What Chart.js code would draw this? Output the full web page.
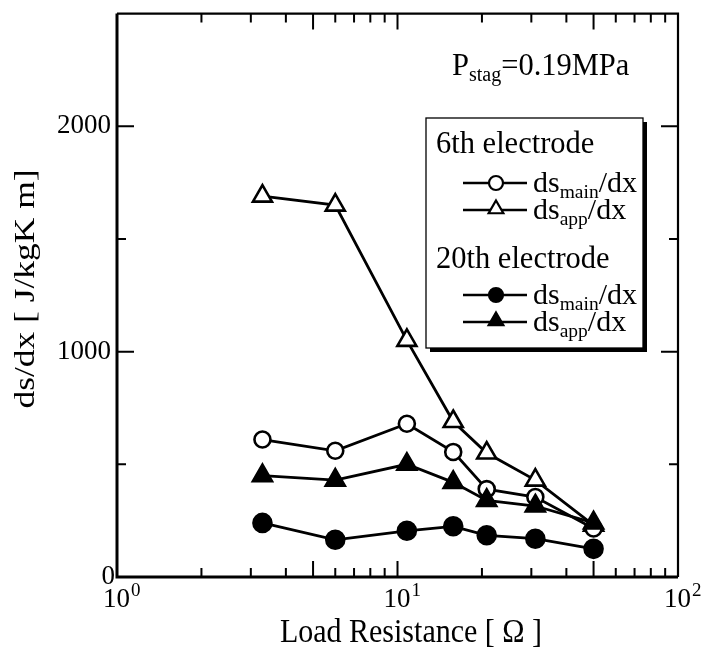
<!DOCTYPE html>
<html>
<head>
<meta charset="utf-8">
<script src="https://cdn.jsdelivr.net/npm/chart.js@4.4.1/dist/chart.umd.min.js"></script>
<style>
  html, body { margin: 0; padding: 0; background: #fff; }
  #wrap { width: 708px; height: 647px; }
</style>
</head>
<body>
<div id="wrap"><canvas id="c" width="708" height="647"></canvas></div>
<script>
// Load resistance [Ohm]
const loadResistance = [3.3, 6, 10.8, 15.8, 20.8, 31, 50];

// ds/dx [J/kgK m]
const main6th = [610, 560, 680, 555, 390, 355, 215];
const app6th  = [1690, 1650, 1050, 690, 550, 430, 230];
const main20th = [240, 165, 205, 225, 185, 170, 125];
const app20th  = [450, 430, 500, 420, 340, 315, 240];

const yTickLabels = [0, 1000, 2000];
const xTickExponents = [0, 1, 2];

const SERIF = '"Liberation Serif", "DejaVu Serif", serif';

function pts(ys) {
  return loadResistance.map((x, i) => ({ x: x, y: ys[i] }));
}

const common = {
  borderColor: '#000',
  borderWidth: 2.8,
  pointBorderColor: '#000',
  pointBorderWidth: 2.6,
  showLine: true,
  tension: 0,
  fill: false
};

const datasets = [
  Object.assign({}, common, {
    label: 'ds_main/dx (6th)', data: pts(main6th), pointStyle: 'circle',
    pointRadius: 8, pointBackgroundColor: '#fff', order: 2,
    sub: 'main'
  }),
  Object.assign({}, common, {
    label: 'ds_app/dx (6th)', data: pts(app6th), pointStyle: 'triangle',
    pointRadius: 11, pointBackgroundColor: '#fff', order: 3,
    sub: 'app'
  }),
  Object.assign({}, common, {
    label: 'ds_main/dx (20th)', data: pts(main20th), pointStyle: 'circle',
    pointRadius: 9, pointBackgroundColor: '#000', order: 1,
    sub: 'main'
  }),
  Object.assign({}, common, {
    label: 'ds_app/dx (20th)', data: pts(app20th), pointStyle: 'triangle',
    pointRadius: 11, pointBackgroundColor: '#000', order: 0,
    sub: 'app'
  })
];

// text with a subscript piece: [main, sub, rest]
function drawSubText(ctx, x, y, parts, big, small, drop) {
  ctx.textAlign = 'left';
  ctx.textBaseline = 'alphabetic';
  ctx.font = big + 'px ' + SERIF;
  ctx.fillText(parts[0], x, y);
  x += ctx.measureText(parts[0]).width;
  ctx.font = small + 'px ' + SERIF;
  ctx.fillText(parts[1], x, y + drop);
  x += ctx.measureText(parts[1]).width;
  ctx.font = big + 'px ' + SERIF;
  ctx.fillText(parts[2], x, y);
}

const framePlugin = {
  id: 'frame',
  afterDraw(chart) {
    const ctx = chart.ctx;
    const a = chart.chartArea;
    const xs = chart.scales.x, ys = chart.scales.y;
    ctx.save();
    ctx.strokeStyle = '#000';
    ctx.fillStyle = '#000';

    // frame
    ctx.lineWidth = 3;
    ctx.beginPath();
    ctx.moveTo(a.left, a.top); ctx.lineTo(a.left, a.bottom); ctx.lineTo(a.right, a.bottom);
    ctx.stroke();
    ctx.lineWidth = 2.2;
    ctx.beginPath();
    ctx.moveTo(a.left, a.top); ctx.lineTo(a.right, a.top); ctx.lineTo(a.right, a.bottom);
    ctx.stroke();

    // inward ticks on x (log minor ticks)
    ctx.lineWidth = 2;
    for (let dec = 1; dec <= 10; dec *= 10) {
      for (let m = 1; m <= 9; m++) {
        const v = m * dec;
        if (v <= 1 || v >= 100) continue;
        const px = xs.getPixelForValue(v);
        const len = (m === 1 || m === 5) ? 16 : 9;
        ctx.beginPath();
        ctx.moveTo(px, a.bottom); ctx.lineTo(px, a.bottom - len);
        ctx.moveTo(px, a.top); ctx.lineTo(px, a.top + len);
        ctx.stroke();
      }
    }
    // inward ticks on y
    for (let v = 500; v < 2500; v += 500) {
      const py = ys.getPixelForValue(v);
      const len = (v % 1000 === 0) ? 17 : 9;
      ctx.beginPath();
      ctx.moveTo(a.left, py); ctx.lineTo(a.left + len, py);
      ctx.moveTo(a.right, py); ctx.lineTo(a.right - len, py);
      ctx.stroke();
    }

    // y tick labels
    ctx.font = '27px ' + SERIF;
    ctx.textAlign = 'right';
    ctx.textBaseline = 'middle';
    yTickLabels.forEach(v => {
      const right = v === 0 ? a.left - 2 : a.left - 6;
      ctx.fillText(String(v), right, ys.getPixelForValue(v));
    });

    // x tick labels 10^n
    xTickExponents.forEach(n => {
      const px = xs.getPixelForValue(Math.pow(10, n));
      ctx.textAlign = 'left';
      ctx.textBaseline = 'alphabetic';
      ctx.font = '27px ' + SERIF;
      const x0 = px - 14;
      ctx.fillText('10', x0, 607);
      const w = ctx.measureText('10').width;
      ctx.font = '19px ' + SERIF;
      ctx.fillText(String(n), x0 + w + 1, 596);
    });

    // axis titles
    ctx.textAlign = 'center';
    ctx.textBaseline = 'alphabetic';
    ctx.save();
    ctx.translate(411, 642);
    ctx.scale(1, 1.1);
    ctx.font = '30px ' + SERIF;
    ctx.fillText('Load Resistance [ \u03A9 ]', 0, 0);
    ctx.restore();
    ctx.save();
    ctx.translate(34, 289);
    ctx.rotate(-Math.PI / 2);
    ctx.scale(1.18, 1);
    ctx.font = '30px ' + SERIF;
    ctx.fillText('ds/dx [ J/kgK m]', 0, 0);
    ctx.restore();

    // condition note
    drawSubText(ctx, 452, 75, ['P', 'stag', '=0.19MPa'], 30.5, 20, 6);

    // legend with drop shadow
    const L = { x: 426, y: 118, w: 217, h: 230 };
    ctx.fillStyle = '#000';
    ctx.fillRect(L.x + 4, L.y + 4, L.w, L.h);
    ctx.fillStyle = '#fff';
    ctx.fillRect(L.x, L.y, L.w, L.h);
    ctx.lineWidth = 1.3;
    ctx.strokeStyle = '#000';
    ctx.strokeRect(L.x, L.y, L.w, L.h);

    ctx.fillStyle = '#000';
    ctx.font = '30.5px ' + SERIF;
    ctx.textAlign = 'left';
    ctx.textBaseline = 'alphabetic';
    ctx.fillText('6th electrode', 436, 153);
    ctx.fillText('20th electrode', 436, 268);

    const rows = [183, 210, 295, 322];
    chart.data.datasets.forEach((ds, i) => {
      const y = rows[i];
      ctx.lineWidth = 2.6;
      ctx.strokeStyle = '#000';
      ctx.beginPath();
      ctx.moveTo(463, y); ctx.lineTo(527, y);
      ctx.stroke();
      ctx.fillStyle = ds.pointBackgroundColor;
      ctx.lineWidth = 2.2;
      Chart.helpers.drawPoint(ctx, {
        pointStyle: ds.pointStyle,
        radius: ds.pointStyle === 'circle' ? 7 : 8.5,
        borderWidth: 2.2,
        rotation: 0
      }, 496, ds.pointStyle === 'triangle' ? y - 1 : y);
      ctx.fillStyle = '#000';
      drawSubText(ctx, 533, y + 9, ['ds', ds.sub, '/dx'], 30, 19.5, 6);
    });

    ctx.restore();
  }
};

new Chart(document.getElementById('c'), {
  type: 'scatter',
  data: { datasets: datasets },
  options: {
    responsive: false,
    animation: false,
    devicePixelRatio: 1,
    layout: { padding: { left: 117, right: 30, top: 6, bottom: 70 } },
    plugins: { legend: { display: false }, tooltip: { enabled: false } },
    scales: {
      x: { type: 'logarithmic', min: 1, max: 100, display: false },
      y: { type: 'linear', min: 0, max: 2500, display: false }
    }
  },
  plugins: [framePlugin]
});
</script>
</body>
</html>
